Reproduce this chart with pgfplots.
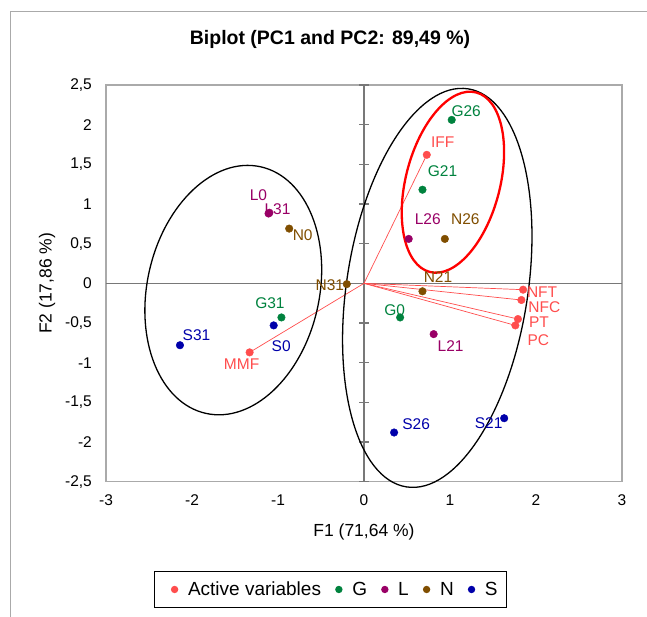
\documentclass[border=0pt]{standalone}
\usepackage{fontspec}
\setmainfont{Liberation Sans}
\usepackage{pgfplots}
\usepackage{pgfplotstable}
\pgfplotsset{compat=1.18}
\definecolor{actred}{RGB}{255,77,77}
\definecolor{ggreen}{RGB}{0,130,62}
\definecolor{lpurple}{RGB}{153,0,102}
\definecolor{nbrown}{RGB}{128,78,0}
\definecolor{sblue}{RGB}{0,0,170}
\definecolor{framegray}{RGB}{170,170,170}
\definecolor{zerogray}{RGB}{120,120,120}

\pgfplotstableread{
x y lab dx dy
0.73 1.62 IFF 16 12.5
1.85 -0.08 NFT 19 -2
1.83 -0.21 NFC 23 -7
1.79 -0.45 PT 21 -3.5
1.76 -0.53 PC 23 -14.5
-1.33 -0.87 MMF -8 -11.5
}\actv
\pgfplotstableread{
x y lab dx dy
0.42 -0.43 G0 -5.5 7
0.68 1.18 G21 20 19
1.02 2.06 G26 14.5 9
-0.96 -0.43 G31 -11.5 14.5
}\gtab
\pgfplotstableread{
x y lab dx dy
-1.10 0.89 L0 -11 18
0.81 -0.64 L21 17 -12
0.52 0.56 L26 19 19.5
-1.11 0.88 L31 9 4.5
}\ltab
\pgfplotstableread{
x y lab dx dy
-0.87 0.69 N0 13.5 -7
0.68 -0.10 N21 15.5 14
0.94 0.56 N26 20.5 19.5
-0.20 -0.01 N31 -17 -1.5
}\ntab
\pgfplotstableread{
x y lab dx dy
-1.05 -0.53 S0 7.5 -21
1.63 -1.70 S21 -15.5 -5
0.35 -1.88 S26 22 8.5
-2.14 -0.78 S31 16.5 10.5
}\stab

\pgfplotsset{
  grp/.style={only marks, mark=*, mark size=3.8pt, color=#1,
    nodes near coords, point meta=explicit symbolic,
    visualization depends on={\thisrow{dx}\as\dx},
    visualization depends on={\thisrow{dy}\as\dy},
    nodes near coords style={anchor=center, inner sep=0pt, xshift=\dx pt, yshift=\dy pt,
      font=\fontsize{15.5}{18}\selectfont, text=#1}},
}

\begin{document}
\begin{tikzpicture}
\begin{axis}[
  at={(106pt,135.3pt)}, anchor=south west,
  scale only axis, width=516pt, height=396.7pt,
  xmin=-3, xmax=3, ymin=-2.5, ymax=2.5,
  clip=false,
  xtick={-3,-2,-1,0,1,2,3},
  ytick={-2.5,-2,-1.5,-1,-0.5,0,0.5,1,1.5,2,2.5},
  major tick length=0pt,
  axis line style={draw=framegray, line width=1.3pt},
  tick label style={font=\fontsize{15.5}{18}\selectfont},
  /pgf/number format/use comma,
  /pgf/number format/1000 sep={},
  /pgf/number format/assume math mode=true,
  xticklabel style={anchor=north, inner sep=0pt, yshift=-13pt},
  yticklabel style={anchor=east, inner sep=0pt, xshift=-14pt},
  title={Biplot (PC1 and PC2: 89,49 \%)},
  title style={font=\bfseries\fontsize{19.5}{22}\selectfont, at={(axis description cs:0.4341,1.0882)}, anchor=base},
  xlabel={F1 (71,64 \%)},
  xlabel style={font=\fontsize{17.5}{20}\selectfont, at={(axis description cs:0.5,-0.1369)}, anchor=base},
  ylabel={F2 (17,86 \%)},
  ylabel style={font=\fontsize{17.5}{20}\selectfont, at={(axis description cs:-0.1056,0.5)}, anchor=base},
  legend style={at={(axis description cs:0.435,-0.2717)}, anchor=center, draw=black, line width=1pt,
    font=\fontsize{19}{22}\selectfont, inner xsep=9pt, inner ysep=10pt,
    nodes={inner sep=0pt},
    /tikz/every odd column/.append style={column sep=9.7pt},
    /tikz/every even column/.append style={column sep=6.5pt}},
  legend columns=5,
  legend image code/.code={\path[draw=none, fill=none] (0pt,0pt) -- (7.6pt,0pt); \fill[#1, draw=none] (11.3pt,0pt) circle (3.7pt);},
]
% zero lines
\draw[zerogray, line width=1.6pt] (axis cs:-3,0) -- (axis cs:3,0);
\draw[zerogray, line width=1.6pt] (axis cs:0,-2.5) -- (axis cs:0,2.5);
\pgfplotsinvokeforeach{-2.5,-2,-1.5,-1,-0.5,0,0.5,1,1.5,2,2.5}{
  \draw[zerogray, line width=1.2pt] ([xshift=-5pt]axis cs:0,#1) -- ([xshift=5pt]axis cs:0,#1);
}
% vectors
\addplot[actred, line width=0.7pt, forget plot] coordinates {(0,0) (0.73,1.62)};
\addplot[actred, line width=0.7pt, forget plot] coordinates {(0,0) (1.85,-0.08)};
\addplot[actred, line width=0.7pt, forget plot] coordinates {(0,0) (1.83,-0.21)};
\addplot[actred, line width=0.7pt, forget plot] coordinates {(0,0) (1.79,-0.45)};
\addplot[actred, line width=0.7pt, forget plot] coordinates {(0,0) (1.76,-0.53)};
\addplot[actred, line width=0.7pt, forget plot] coordinates {(0,0) (-1.33,-0.87)};
% ellipses
\draw[black, line width=1.3pt, rotate around={-12.5:(axis cs:-1.52,-0.085)}] (axis cs:-1.52,-0.085) ellipse [x radius=86.1pt, y radius=126.3pt];
\draw[black, line width=1.3pt, rotate around={-8.8:(axis cs:0.852,-0.057)}] (axis cs:0.852,-0.057) ellipse [x radius=90.6pt, y radius=201.4pt];
\draw[red, line width=2.3pt, rotate around={-14.5:(axis cs:1.034,1.275)}] (axis cs:1.034,1.275) ellipse [x radius=47.1pt, y radius=92.7pt];
% points
\addplot[grp=actred] table[x=x, y=y, meta=lab]{\actv};
\addlegendentry{Active variables}
\addplot[grp=ggreen] table[x=x, y=y, meta=lab]{\gtab};
\addlegendentry{G}
\addplot[grp=lpurple] table[x=x, y=y, meta=lab]{\ltab};
\addlegendentry{L}
\addplot[grp=nbrown] table[x=x, y=y, meta=lab]{\ntab};
\addlegendentry{N}
\addplot[grp=sblue] table[x=x, y=y, meta=lab]{\stab};
\addlegendentry{S}
\end{axis}
\draw[framegray, line width=1pt] (10pt,-5pt) -- (10pt,605pt) -- (660pt,605pt);
\pgfresetboundingbox
\path[use as bounding box] (0pt,0pt) rectangle (647pt,617pt);
\end{tikzpicture}
\end{document}
